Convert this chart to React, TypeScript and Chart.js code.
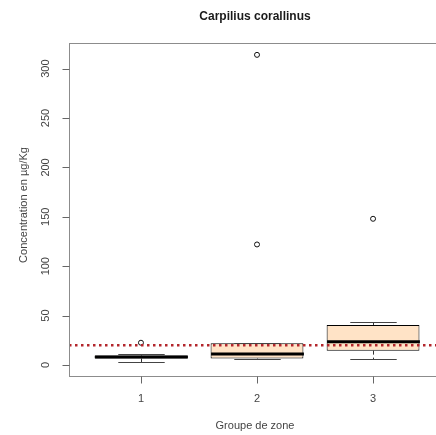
import React, { useEffect, useRef } from 'react';
import { Chart, registerables } from 'chart.js';

Chart.register(...registerables);

// ---- data ----
const groups = [1, 2, 3];
const groupLabels = ['1', '2', '3'];
const lowerWhisker = [3, 6, 6];
const q1 = [6.5, 6.5, 14.5];
const median = [8, 11, 23.6];
const q3 = [9.5, 22, 40.5];
const upperWhisker = [11, 22, 43];
const outlierGroup = [1, 2, 2, 3];
const outlierValue = [22.5, 122, 314, 148];
const threshold = 20;
const yTicks = [0, 50, 100, 150, 200, 250, 300];
const xMin = 0.38;
const xMax = 3.62;
const yMin = -12.2;
const yMax = 326;
const titleText = 'Carpilius corallinus';
const xTitle = 'Groupe de zone';
const yTitle = 'Concentration en µg/Kg';

const FONT = '"Liberation Sans", Arial, sans-serif';

const rPlugin = {
  id: 'rboxplot',
  afterDatasetDraw(chart: any, args: any) {
    if (args.meta.type !== 'bar') return;
    const { ctx } = chart;
    const x = chart.scales.x;
    const y = chart.scales.y;
    const meta = args.meta;
    ctx.save();
    groups.forEach((g, i) => {
      const el = meta.data[i];
      const cx = Math.round(x.getPixelForValue(g)) + 0.5;
      const half = el.width / 2;
      const yq1 = y.getPixelForValue(q1[i]);
      const yq3 = y.getPixelForValue(q3[i]);
      const ylo = Math.round(y.getPixelForValue(lowerWhisker[i])) + 0.5;
      const yhi = Math.round(y.getPixelForValue(upperWhisker[i])) + 0.5;
      ctx.strokeStyle = '#333';
      ctx.lineWidth = 1;
      ctx.setLineDash([4, 3]);
      ctx.beginPath();
      ctx.moveTo(cx, yq3);
      ctx.lineTo(cx, yhi);
      ctx.moveTo(cx, yq1);
      ctx.lineTo(cx, ylo);
      ctx.stroke();
      ctx.setLineDash([]);
      ctx.strokeStyle = '#444';
      ctx.beginPath();
      ctx.moveTo(cx - half / 2, yhi);
      ctx.lineTo(cx + half / 2, yhi);
      ctx.moveTo(cx - half / 2, ylo);
      ctx.lineTo(cx + half / 2, ylo);
      ctx.stroke();
      ctx.strokeStyle = '#000';
      ctx.lineWidth = 3;
      const ym = y.getPixelForValue(median[i]);
      ctx.beginPath();
      ctx.moveTo(cx - half, ym);
      ctx.lineTo(cx + half, ym);
      ctx.stroke();
    });
    ctx.restore();
  },
  afterDraw(chart: any) {
    const { ctx, chartArea } = chart;
    const x = chart.scales.x;
    const y = chart.scales.y;
    const L = chartArea.left + 0.5;
    const T = chartArea.top + 0.5;
    const R = chartArea.right - 0.5;
    const B = chartArea.bottom - 0.5;
    ctx.save();
    ctx.strokeStyle = '#8c8c8c';
    ctx.lineWidth = 1;
    ctx.strokeRect(L, T, R - L, B - T);
    ctx.strokeStyle = '#666';
    ctx.fillStyle = '#444';
    ctx.font = `11px ${FONT}`;
    ctx.beginPath();
    yTicks.forEach((v) => {
      const py = Math.round(y.getPixelForValue(v)) + 0.5;
      ctx.moveTo(L - 7, py);
      ctx.lineTo(L, py);
    });
    ctx.stroke();
    yTicks.forEach((v) => {
      const py = y.getPixelForValue(v);
      ctx.save();
      ctx.translate(46, py);
      ctx.rotate(-Math.PI / 2);
      ctx.textAlign = 'center';
      ctx.textBaseline = 'middle';
      ctx.fillText(String(v), 0, 0);
      ctx.restore();
    });
    ctx.beginPath();
    groups.forEach((g) => {
      const px = Math.round(x.getPixelForValue(g)) + 0.5;
      ctx.moveTo(px, B);
      ctx.lineTo(px, B + 7);
    });
    ctx.stroke();
    ctx.textAlign = 'center';
    ctx.textBaseline = 'middle';
    groups.forEach((g, i) => {
      ctx.fillText(groupLabels[i], x.getPixelForValue(g), 399);
    });
    const midX = (chartArea.left + chartArea.right) / 2;
    ctx.fillText(xTitle, midX - 2, 426);
    ctx.save();
    ctx.translate(24, 205);
    ctx.rotate(-Math.PI / 2);
    ctx.fillText(yTitle, 0, 0);
    ctx.restore();
    ctx.fillStyle = '#1a1a1a';
    ctx.font = `bold 12px ${FONT}`;
    ctx.fillText(titleText, midX - 2, 17);
    ctx.restore();
  },
};

export default function App() {
  const ref = useRef<HTMLCanvasElement>(null);
  useEffect(() => {
    if (!ref.current) return;
    const chart = new Chart(ref.current, {
      type: 'bar',
      data: {
        datasets: [
          {
            type: 'line',
            data: [
              { x: xMin, y: threshold },
              { x: xMax, y: threshold },
            ],
            borderColor: '#b3262c',
            borderWidth: 2.5,
            borderDash: [2.5, 3.5],
            pointRadius: 0,
            order: 1,
          } as any,
          {
            type: 'scatter',
            data: outlierGroup.map((g, i) => ({ x: g, y: outlierValue[i] })),
            pointRadius: 2.5,
            pointBorderWidth: 1,
            pointBorderColor: '#111',
            pointBackgroundColor: 'rgba(0,0,0,0)',
            order: 2,
          } as any,
          {
            type: 'bar',
            data: groups.map((g, i) => ({ x: g, y: [q1[i], q3[i]] })),
            backgroundColor: '#ffe3c6',
            borderColor: '#000',
            borderWidth: 1,
            borderSkipped: false,
            barPercentage: 0.8,
            categoryPercentage: 1,
            order: 3,
          } as any,
        ],
      },
      options: {
        animation: false,
        responsive: false,
        layout: { padding: { left: 69, top: 43, right: 15, bottom: 58 } },
        scales: {
          x: {
            type: 'linear',
            min: xMin,
            max: xMax,
            offset: false,
            display: false,
            afterBuildTicks: (s: any) => {
              s.ticks = groups.map((v) => ({ value: v }));
            },
          },
          y: {
            type: 'linear',
            min: yMin,
            max: yMax,
            display: false,
            afterBuildTicks: (s: any) => {
              s.ticks = yTicks.map((v) => ({ value: v }));
            },
          },
        },
        plugins: {
          legend: { display: false },
          tooltip: { enabled: false },
          title: { display: false },
        },
      },
      plugins: [rPlugin],
    });
    return () => chart.destroy();
  }, []);
  return (
    <div style={{ position: 'fixed', left: 0, top: 0, width: 460, height: 435, background: '#fff' }}>
      <canvas ref={ref} width={460} height={435} style={{ display: 'block' }} />
    </div>
  );
}
